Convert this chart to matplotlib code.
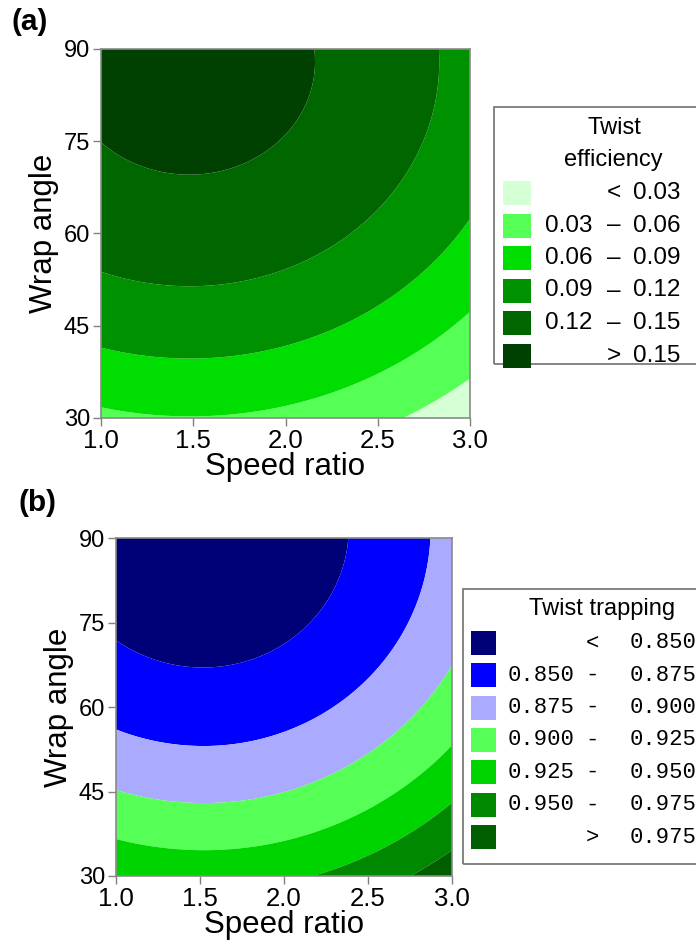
import matplotlib
matplotlib.use("Agg")
import matplotlib.pyplot as plt
from matplotlib.patches import Rectangle
import numpy as np

plt.rcParams['font.family'] = ['Liberation Sans', 'DejaVu Sans']

# points: (speed ratio, wrap angle) on each level
eff_x = [1.0, 1.52, 1.79, 2.06, 2.16,
         1.0, 1.5, 2.67, 2.83,
         1.0, 1.5, 2.24, 2.69, 3.0,
         1.0, 1.5, 2.24, 3.0,
         2.63, 3.0]
eff_y = [75.1, 69.7, 70.9, 78.5, 90.0,
         53.8, 51.5, 70.9, 90.0,
         41.4, 39.6, 44.3, 52.4, 62.2,
         31.8, 30.2, 34.0, 47.3,
         30.0, 36.3]
eff_z = [0.15] * 5 + [0.12] * 4 + [0.09] * 5 + [0.06] * 4 + [0.03] * 2

trap_x = [1.0, 1.54, 2.135, 2.39,
          1.0, 1.54, 2.61, 2.87,
          1.0, 1.54, 3.0,
          1.0, 1.54, 3.0,
          2.175, 3.0,
          2.75, 3.0]
trap_y = [71.9, 66.9, 74.9, 90.0,
          56.0, 53.0, 68.9, 90.0,
          45.3, 42.9, 67.2,
          36.6, 34.6, 53.3,
          30.0, 42.9,
          30.0, 34.6]
trap_z = [0.850] * 4 + [0.875] * 4 + [0.900] * 3 + [0.925] * 3 + [0.950] * 2 + [0.975] * 2

eff_levels = [0.03, 0.06, 0.09, 0.12, 0.15]
eff_colors = ['#d5ffd5', '#55ff55', '#00dd00', '#009100', '#006600', '#004000']
eff_labels = [('', '<', '0.03'), ('0.03', '–', '0.06'), ('0.06', '–', '0.09'),
              ('0.09', '–', '0.12'), ('0.12', '–', '0.15'), ('', '>', '0.15')]

trap_levels = [0.850, 0.875, 0.900, 0.925, 0.950, 0.975]
trap_colors = ['#000077', '#0000ff', '#aaaaff', '#55ff55', '#00d400', '#008800', '#005d00']
trap_labels = [('', '<', '0.850'), ('0.850', '-', '0.875'), ('0.875', '-', '0.900'),
               ('0.900', '-', '0.925'), ('0.925', '-', '0.950'), ('0.950', '-', '0.975'),
               ('', '>', '0.975')]

speed_ticks = [1.0, 1.5, 2.0, 2.5, 3.0]
wrap_ticks = [30, 45, 60, 75, 90]

W, H = 696, 951


def quad_terms(x, y):
    x = np.asarray(x, float)
    y = np.asarray(y, float) / 30.0
    return np.stack([np.ones_like(x), x, y, x * x, y * y, x * y], axis=-1)


def fit_surface(px, py, pz):
    coef, *_ = np.linalg.lstsq(quad_terms(px, py), np.asarray(pz), rcond=None)
    gx, gy = np.meshgrid(np.linspace(1, 3, 400), np.linspace(30, 90, 400))
    return gx, gy, quad_terms(gx, gy) @ coef


def fbox(x0, y0, x1, y1):
    return [x0 / W, 1 - y1 / H, (x1 - x0) / W, (y1 - y0) / H]


def draw_panel(ax, px, py, pz, levels, colors):
    gx, gy, gz = fit_surface(px, py, pz)
    lv = [-100] + list(levels) + [100]
    ax.contourf(gx, gy, gz, levels=lv, colors=colors, antialiased=True)
    ax.set_xlim(1, 3)
    ax.set_ylim(30, 90)
    ax.set_xticks(speed_ticks)
    ax.set_xticklabels(['%.1f' % t for t in speed_ticks], fontsize=18.5)
    ax.set_yticks(wrap_ticks)
    ax.set_yticklabels([str(t) for t in wrap_ticks], fontsize=17)
    ax.tick_params(direction='out', length=6, width=1, color='#808080', pad=2)
    ax.tick_params(axis='x', pad=2)
    for s in ax.spines.values():
        s.set_color('#8a8a8a')
        s.set_linewidth(1.2)
    ax.set_xlabel('Speed ratio', fontsize=22.5, labelpad=-1)
    ax.set_ylabel('Wrap angle', fontsize=22.5, labelpad=3)


def legend_box(fig, x0, y0, x1, y1, title_lines, rows, colors, sw, col1, dash, col2, num_font, size):
    fig.patches.append(Rectangle((x0 / W, 1 - y1 / H), (x1 - x0) / W, (y1 - y0) / H,
                                 transform=fig.transFigure, fill=False,
                                 edgecolor='#707070', linewidth=1.2))
    for txt, cx, cy in title_lines:
        fig.text(cx / W, 1 - cy / H, txt, ha='center', va='center', fontsize=17)
    for i, ((a, d, b), c) in enumerate(zip(rows, colors)):
        yc = sw['y0'] + i * sw['dy']
        fig.patches.append(Rectangle((sw['x0'] / W, 1 - (yc + 12) / H), (sw['x1'] - sw['x0']) / W, 24 / H,
                                     transform=fig.transFigure, facecolor=c, edgecolor='none'))
        if a:
            fig.text(col1 / W, 1 - yc / H, a, ha='left', va='center', fontsize=size, family=num_font)
        fig.text(dash / W, 1 - yc / H, d, ha='center', va='center', fontsize=size, family=num_font)
        fig.text(col2 / W, 1 - yc / H, b, ha='left', va='center', fontsize=size, family=num_font)


fig = plt.figure(figsize=(W / 100, H / 100), dpi=100)

ax1 = fig.add_axes(fbox(101, 49, 470, 418))
draw_panel(ax1, eff_x, eff_y, eff_z, eff_levels, eff_colors)
fig.text(11 / W, 1 - 22 / H, '(a)', fontsize=21.5, fontweight='bold', ha='left', va='center')

ax2 = fig.add_axes(fbox(116, 538, 452, 876))
draw_panel(ax2, trap_x, trap_y, trap_z, trap_levels, trap_colors)
fig.text(19 / W, 1 - 503 / H, '(b)', fontsize=21.5, fontweight='bold', ha='left', va='center')

legend_box(fig, 494, 107, 702, 364,
           [('Twist', 614, 128), ('efficiency', 613, 160)],
           eff_labels, eff_colors,
           {'x0': 503, 'x1': 531, 'y0': 193, 'dy': 32.5},
           545, 614, 633, ['Liberation Sans', 'DejaVu Sans'], 17.5)

legend_box(fig, 463, 589, 702, 864,
           [('Twist trapping', 602, 609)],
           trap_labels, trap_colors,
           {'x0': 471, 'x1': 496, 'y0': 642.7, 'dy': 32.43},
           508, 592, 630, ['Liberation Mono', 'DejaVu Sans Mono'], 16)

fig.savefig('out.png', dpi=100)
